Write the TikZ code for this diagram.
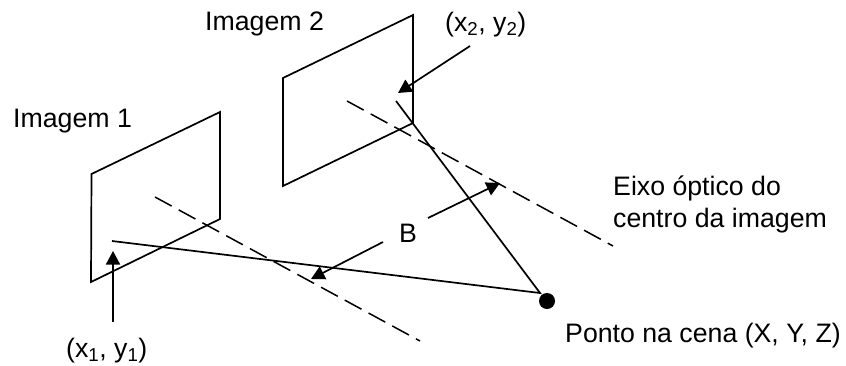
\documentclass[tikz,border=0pt]{standalone}
\usepackage{fontspec}
\setmainfont{Liberation Sans}
\usetikzlibrary{arrows.meta}
\tikzset{
 ln/.style={line width=1.7pt,black},
 dsh/.style={line width=1.5pt,black,dash pattern=on 19pt off 8pt},
 arr/.style={line width=1.7pt,black,-{Triangle[length=13.5pt,width=14pt]}},
 lbl/.style={inner sep=0pt,font=\fontsize{26.7}{30}\selectfont,anchor=base west},
}
\begin{document}
\begin{tikzpicture}[x=1pt,y=-1pt]
\useasboundingbox (0,0) rectangle (846,365);
\fill[white] (0,0) rectangle (846,365);
\draw[ln,line join=miter] (91.5,174) -- (220,112) -- (220,219) -- (91,282) -- cycle;
\draw[ln] (283,78) -- (413,15) -- (413,123) -- (283,186) -- cycle;
\coordinate (d1a) at (155,197); \coordinate (d1b) at (420,341);
\coordinate (d2a) at (347,101); \coordinate (d2b) at (613,246);
\draw[dsh] (d1a) -- (d1b);
\draw[dsh] (d2a) -- (d2b);
\node[circle,fill=black,minimum size=16pt,inner sep=0pt] (p) at (547,301) {};
\coordinate (r1) at (112,241); \coordinate (r2) at (396,101); \coordinate (pp) at (540,293);
\draw[ln] (r1) -- (pp) -- (r2);
\node[lbl] (i1) at (13,127) {Imagem 1};
\node[lbl] (i2) at (205,30) {Imagem 2};
\node[lbl] (x1) at (66,357) {(x\textsubscript{1}, y\textsubscript{1})};
\node[lbl] (x2) at (445,31) {(x\textsubscript{2}, y\textsubscript{2})};
\node[lbl] (B) at (399,242) {B};
\node[lbl] (e1) at (613,195) {Eixo óptico do};
\node[lbl] (e2) at (613,227) {centro da imagem};
\node[lbl] (pn) at (565,342) {Ponto na cena (X, Y, Z)};
\coordinate (a1) at (113,322); \coordinate (t1) at (113,251);
\coordinate (a2) at (470,46); \coordinate (t2) at (398,93);
\coordinate (a3) at (428,218); \coordinate (t3) at (500,183);
\coordinate (a4) at (383,242); \coordinate (t4) at (311,279);
\draw[arr] (a1) -- (t1);
\draw[arr] (a2) -- (t2);
\draw[arr] (a3) -- (t3);
\draw[arr] (a4) -- (t4);
\end{tikzpicture}
\end{document}
